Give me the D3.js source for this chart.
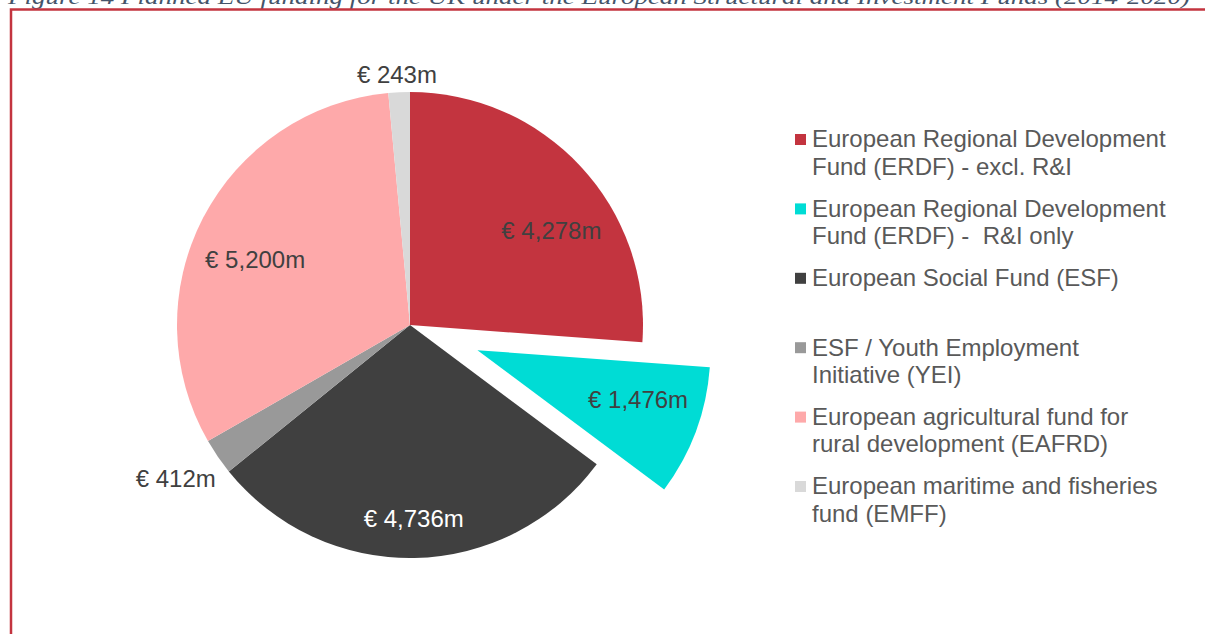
<!DOCTYPE html>
<html>
<head>
<meta charset="utf-8">
<script src="https://cdn.jsdelivr.net/npm/d3@7"></script>
<style>
  body { margin: 0; background: #fff; }
  text { font-family: "Liberation Sans", Arial, sans-serif; white-space: pre; }
</style>
</head>
<body>
<svg width="1205" height="634"></svg>
<script>
// data
var funds = ["ERDF excl R&I", "ERDF R&I only", "ESF", "YEI", "EAFRD", "EMFF"];
var values = [4278, 1476, 4736, 412, 5200, 243];
var valueLabels = ["€ 4,278m", "€ 1,476m", "€ 4,736m", "€ 412m", "€ 5,200m", "€ 243m"];
var legendLines = [
  ["European Regional Development", "Fund (ERDF) - excl. R&I"],
  ["European Regional Development", "Fund (ERDF) -  R&I only"],
  ["European Social Fund (ESF)"],
  ["ESF / Youth Employment", "Initiative (YEI)"],
  ["European agricultural fund for", "rural development (EAFRD)"],
  ["European maritime and fisheries", "fund (EMFF)"]
];
var colors = ["#c3343f", "#00dcd5", "#404040", "#999999", "#fea9aa", "#d9d9d9"];
var caption = "Figure 14 Planned EU funding for the UK under the European Structural and Investment Funds (2014-2020)";

var svg = d3.select("svg");
svg.append("rect").attr("width", 1205).attr("height", 634).attr("fill", "#fff");

// caption (cut off at top in the original too)
svg.append("text")
    .attr("x", 8)
    .attr("y", 4)
    .attr("textLength", 1182)
    .attr("lengthAdjust", "spacingAndGlyphs")
    .style("font-family", "'Liberation Serif', 'DejaVu Serif', serif")
    .style("font-style", "italic")
    .style("font-size", "21px")
    .attr("fill", "#44546a")
    .text(caption);

// frame
svg.append("path")
    .attr("d", "M11,640 L11,9.5 L1210,9.5")
    .attr("fill", "none")
    .attr("stroke", "#c3343f")
    .attr("stroke-width", 2.5);

var cx = 410, cy = 325, radius = 233;
var explodeIndex = 1, explodeDist = 72;

var pie = d3.pie().sort(null).value(function(d) { return d; });
var arcs = pie(values);
var arc = d3.arc().innerRadius(0).outerRadius(radius);

function mid(d) { return (d.startAngle + d.endAngle) / 2; }

var g = svg.append("g").attr("transform", "translate(" + cx + "," + cy + ")");

var slices = g.selectAll("g.slice")
    .data(arcs)
    .enter()
    .append("g")
      .attr("class", "slice")
      .attr("transform", function(d, i) {
        if (i !== explodeIndex) return null;
        var a = mid(d);
        return "translate(" + (Math.sin(a) * explodeDist) + "," + (-Math.cos(a) * explodeDist) + ")";
      });

slices.append("path")
    .attr("d", arc)
    .attr("fill", function(d, i) { return colors[i]; });

// label placement: inside radius / angle nudge, or outside
var labelInfo = [
  {r: 170, da: 0.16, inside: true},
  {r: 168, da: -0.06, inside: true},
  {r: 194, da: 0, inside: true},
  {r: 250, da: -0.03, inside: false},
  {r: 168, da: -0.08, inside: true},
  {r: 240, da: 0, inside: false}
];

slices.append("text")
    .attr("text-anchor", "middle")
    .attr("dy", "0.35em")
    .style("font-size", "24px")
    .attr("fill", function(d, i) { return i === 2 ? "#ffffff" : "#404040"; })
    .text(function(d, i) { return valueLabels[i]; })
    .each(function(d, i) {
      var info = labelInfo[i];
      var a = mid(d) + info.da;
      var x = Math.sin(a) * info.r, y = -Math.cos(a) * info.r;
      if (!info.inside) {
        var w = this.getComputedTextLength(), h = 22;
        x += Math.sin(a) * w / 2;
        y += -Math.cos(a) * h / 2;
      }
      d3.select(this).attr("x", x).attr("y", y);
    });

// legend
var legend = svg.append("g").attr("transform", "translate(795,139)");
var item = legend.selectAll("g")
    .data(funds)
    .enter()
    .append("g")
      .attr("transform", function(d, i) { return "translate(0," + (i * 69.4) + ")"; });

item.append("rect")
    .attr("x", 0)
    .attr("y", -5)
    .attr("width", 11)
    .attr("height", 11)
    .attr("fill", function(d, i) { return colors[i]; });

item.append("text")
    .attr("x", 17)
    .style("font-size", "24px")
    .attr("fill", "#595959")
    .selectAll("tspan")
    .data(function(d, i) { return legendLines[i]; })
    .enter()
    .append("tspan")
      .attr("x", 17)
      .attr("y", function(d, j) { return j * 27.5; })
      .attr("dy", "0.35em")
      .text(function(d) { return d; });
</script>
</body>
</html>
